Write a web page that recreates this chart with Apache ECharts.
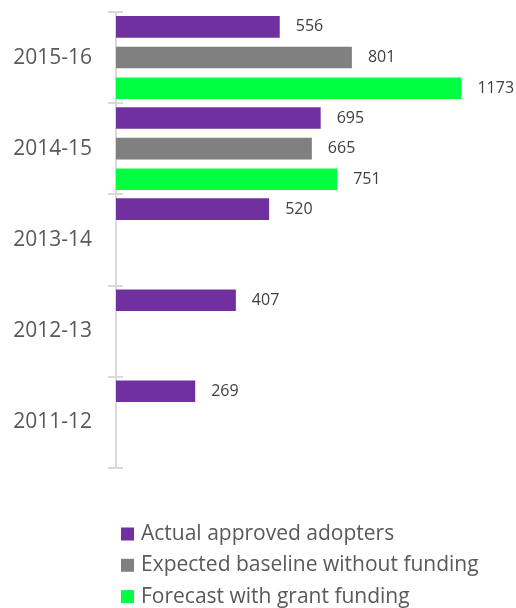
<!DOCTYPE html>
<html>
<head>
<meta charset="utf-8">
<script src="https://cdn.jsdelivr.net/npm/echarts@6/dist/echarts.min.js"></script>
<style>
  html, body { margin: 0; padding: 0; background: #fff; }
  #chart { width: 516px; height: 608px; }
</style>
</head>
<body>
<div id="chart"></div>
<script>
// Financial years, bottom to top
const years = ['2011-12', '2012-13', '2013-14', '2014-15', '2015-16'];
// Approved adopters per year
const actualAdopters = [269, 407, 520, 695, 556];
const baselineNoFunding = [null, null, null, 665, 801];
const forecastWithGrant = [null, null, null, 751, 1173];

const seriesNames = [
  'Actual approved adopters',
  'Expected baseline without funding',
  'Forecast with grant funding'
];

const FONT = '"Open Sans", sans-serif';

const chart = echarts.init(document.getElementById('chart'));

const valueLabel = {
  show: true,
  position: 'right',
  distance: 16,
  color: '#404040',
  fontFamily: FONT,
  fontSize: 16
};

chart.setOption({
  animation: false,
  grid: { left: 116, right: 46.6, top: 12, bottom: 140.5 },
  xAxis: {
    type: 'value',
    min: 0,
    max: 1200,
    show: false
  },
  yAxis: [
    {
      type: 'category',
      data: years,
      axisLine: { lineStyle: { color: '#D9D9D9', width: 2 } },
      axisTick: { show: true, length: 8, lineStyle: { color: '#D9D9D9', width: 2 } },
      axisLabel: { color: '#595959', fontFamily: FONT, fontSize: 21, margin: 24 }
    },
    {
      type: 'category',
      data: years,
      position: 'left',
      axisLine: { show: false },
      axisTick: { show: true, inside: true, length: 7, lineStyle: { color: '#D9D9D9', width: 2 } },
      axisLabel: { show: false }
    }
  ],
  legend: {
    orient: 'vertical',
    left: 116,
    top: 518.5,
    height: 120,
    padding: 5,
    icon: 'rect',
    itemWidth: 13,
    itemHeight: 13,
    itemGap: 10.3,
    data: seriesNames,
    textStyle: { color: '#595959', fontFamily: FONT, fontSize: 21, padding: [0, 0, 0, 2] }
  },
  series: [
    {
      name: seriesNames[0],
      type: 'bar',
      data: actualAdopters,
      itemStyle: { color: '#7030A0' },
      barCategoryGap: '9%',
      barGap: '42%',
      label: valueLabel
    },
    {
      name: seriesNames[1],
      type: 'bar',
      data: baselineNoFunding,
      itemStyle: { color: '#808080' },
      barGap: '42%',
      label: valueLabel
    },
    {
      name: seriesNames[2],
      type: 'bar',
      data: forecastWithGrant,
      itemStyle: { color: '#00FF41' },
      barGap: '42%',
      label: valueLabel
    }
  ]
});
</script>
</body>
</html>
